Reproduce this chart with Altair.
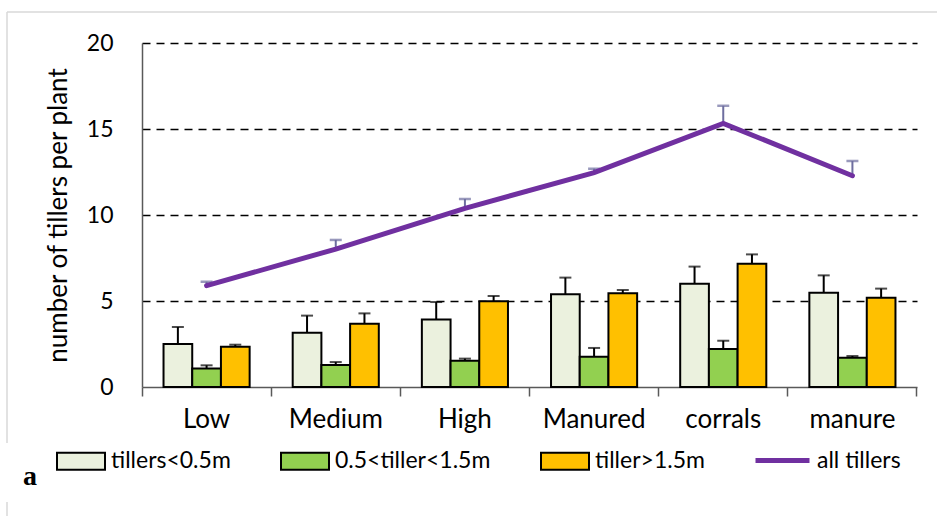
import altair as alt
import pandas as pd

# Treatments along the x axis
categories = ["Low", "Medium", "High", "Manured", "corrals", "manure"]
series_names = ["tillers<0.5m", "0.5<tiller<1.5m", "tiller>1.5m"]
bar_colors = ["#EBF1DE", "#92D050", "#FFC000"]

# Mean tillers per plant by height class, with standard errors
short_vals = [2.50, 3.16, 3.93, 5.39, 6.01, 5.48]
short_err = [0.99, 0.99, 1.01, 0.97, 0.99, 1.01]
mid_vals = [1.07, 1.28, 1.53, 1.76, 2.21, 1.70]
mid_err = [0.19, 0.17, 0.12, 0.51, 0.48, 0.10]
tall_vals = [2.34, 3.68, 4.98, 5.45, 7.17, 5.19]
tall_err = [0.12, 0.60, 0.31, 0.19, 0.54, 0.53]

# All tillers together
total_vals = [5.89, 8.02, 10.39, 12.46, 15.33, 12.28]
total_err = [0.23, 0.53, 0.54, 0.23, 1.02, 0.86]

rows = []
for i, cat in enumerate(categories):
    for name, vals, errs in zip(series_names,
                                [short_vals, mid_vals, tall_vals],
                                [short_err, mid_err, tall_err]):
        rows.append({"category": cat, "series": name,
                     "value": vals[i], "upper": vals[i] + errs[i]})
bars_df = pd.DataFrame(rows)

line_df = pd.DataFrame({
    "category": categories,
    "series": ["all tillers"] * len(categories),
    "value": total_vals,
    "upper": [v + e for v, e in zip(total_vals, total_err)],
})

W, H = 775, 344
FONT = "Lato"
AXIS_GREY = "#595959"

x_enc = alt.X(
    "category:N", sort=categories,
    scale=alt.Scale(paddingInner=0, paddingOuter=0),
    axis=alt.Axis(title=None, bandPosition=1, tickExtra=True, ticks=True,
                  labelAngle=0, labelAlign="center",
                  labelBaseline="top", labelOverlap=False,
                  tickSize=9, tickWidth=1.5,
                  tickColor=AXIS_GREY, domainColor=AXIS_GREY, domainWidth=1.5,
                  labelFontSize=26, labelPadding=10, labelColor="black",
                  grid=False),
)
x_off = alt.XOffset("series:N", sort=series_names,
                    scale=alt.Scale(paddingInner=0, paddingOuter=0.75))
y_enc = alt.Y(
    "value:Q", scale=alt.Scale(domain=[0, 20]),
    axis=alt.Axis(title="number of tillers per plant", values=[0, 5, 10, 15, 20],
                  ticks=False, labelFontSize=23, labelPadding=29, labelColor="black",
                  domainColor=AXIS_GREY, domainWidth=1.5,
                  grid=True, gridColor="black", gridDash=[8, 6], gridWidth=1.5,
                  gridOpacity=alt.expr("datum.value == 0 ? 0 : 1"),
                  titleFontSize=26, titleFontWeight="normal", titleColor="black",
                  titleX=-84, titleBaseline="middle"),
)

bars = alt.Chart(bars_df).mark_bar(stroke="black", strokeWidth=2).encode(
    x=x_enc, xOffset=x_off, y=y_enc,
    fill=alt.Fill(
        "series:N",
        scale=alt.Scale(domain=series_names, range=bar_colors),
        legend=alt.Legend(
            title=None, orient="none", legendX=-86, legendY=393,
            direction="horizontal", columns=3, gridAlign="each",
            symbolType="M-1,-0.354L1,-0.354L1,0.354L-1,0.354Z", symbolSize=2304,
            symbolStrokeColor="black", symbolStrokeWidth=2, symbolOpacity=1,
            labelFont=FONT, labelFontSize=23, labelColor="black",
            labelOffset=5, labelLimit=300, columnPadding=46, padding=0,
        ),
    ),
)

bar_err = alt.Chart(bars_df).mark_rule(color="black", strokeWidth=2).encode(
    x=x_enc, xOffset=x_off, y="value:Q", y2="upper:Q",
)
bar_cap = alt.Chart(bars_df).mark_tick(color="black", thickness=2, size=12).encode(
    x=x_enc, xOffset=x_off, y="upper:Q",
)

LINE_ERR = "#6E6E9F"
line_err = alt.Chart(line_df).mark_rule(color=LINE_ERR, strokeWidth=2).encode(
    x=x_enc, y="value:Q", y2="upper:Q",
)
line_cap = alt.Chart(line_df).mark_tick(color=LINE_ERR, thickness=2.5, size=12).encode(
    x=x_enc, y="upper:Q",
)
line = alt.Chart(line_df).mark_line(strokeWidth=5, strokeCap="round").encode(
    x=x_enc, y="value:Q",
    stroke=alt.Stroke(
        "series:N",
        scale=alt.Scale(domain=["all tillers"], range=["#7030A0"]),
        legend=alt.Legend(
            title=None, orient="none", legendX=611, legendY=388,
            symbolType="stroke", symbolSize=2916, symbolStrokeWidth=5,
            labelFont=FONT, labelFontSize=23, labelColor="black",
            labelOffset=5, labelLimit=300, padding=0,
        ),
    ),
)

# Panel letter and the light frame around the figure
panel_label = alt.Chart(pd.DataFrame({"t": ["a"]})).mark_text(
    font="Liberation Serif", fontWeight="bold", fontSize=28,
    align="left", baseline="alphabetic", color="black",
).encode(text="t:N", x=alt.value(-119), y=alt.value(442))

frame_df = pd.DataFrame({"k": [0]})
frame_top = alt.Chart(frame_df).mark_rule(color="#D9D9D9", strokeWidth=1.5).encode(
    x=alt.value(-135), x2=alt.value(795), y=alt.value(-31))
frame_left = alt.Chart(frame_df).mark_rule(color="#D9D9D9", strokeWidth=1.5).encode(
    x=alt.value(-135), y=alt.value(-31), y2=alt.value(400))
frame_left2 = alt.Chart(frame_df).mark_rule(color="#D9D9D9", strokeWidth=1.5).encode(
    x=alt.value(-135), y=alt.value(459), y2=alt.value(473))

chart = alt.layer(
    frame_top, frame_left, frame_left2,
    bars, bar_err, bar_cap, line_err, line_cap, line, panel_label,
).resolve_scale(fill="independent", stroke="independent").properties(
    width=W, height=H,
    autosize=alt.AutoSizeParams(type="none"),
    padding={"left": 142, "top": 43, "right": 20, "bottom": 129},
    background="white",
).configure_view(stroke=None).configure_axis(
    labelFont=FONT, titleFont=FONT,
)

chart.save("out.html", embed_options={"renderer": "svg", "actions": False})
